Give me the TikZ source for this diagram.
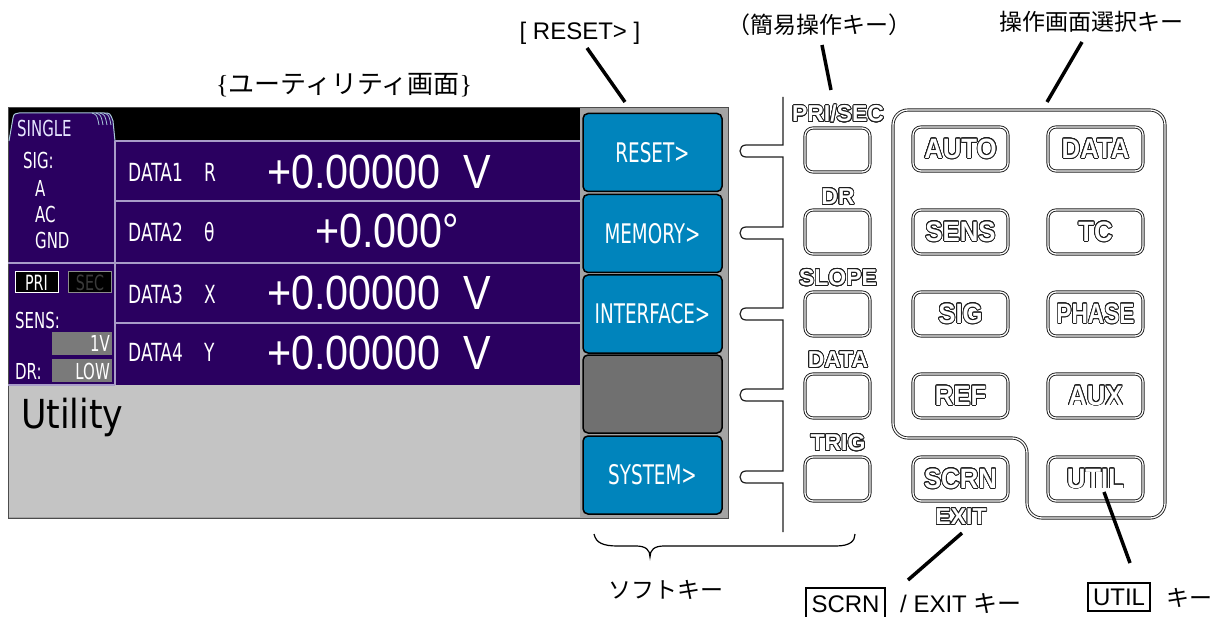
\documentclass[tikz,border=0pt]{standalone}
\usepackage{fontspec}
\setmainfont{Liberation Sans}
\newfontfamily\jp{Noto Sans CJK JP}
\newfontfamily\lcd[FakeStretch=0.68]{DejaVu Sans}
\newfontfamily\lcdbig[FakeStretch=0.86]{Liberation Sans}
\newfontfamily\utilfont[FakeStretch=0.87]{DejaVu Sans}
\newfontfamily\serifbr{Liberation Serif}
\newfontfamily\pnlfont[FakeStretch=0.92]{Liberation Sans}
\usepackage[copies]{contour}
\contourlength{0.8pt}
\contournumber{24}
\definecolor{scrpurple}{HTML}{2A0060}
\definecolor{scrline}{HTML}{A89CC8}
\definecolor{tabline}{HTML}{A8C8D8}
\definecolor{keyblue}{HTML}{0084BC}
\definecolor{keygray}{HTML}{707070}
\definecolor{utilgray}{HTML}{C4C4C4}
\definecolor{framegray}{HTML}{A4A4A4}
\definecolor{boxgray}{HTML}{7A7A7A}
\definecolor{secgray}{HTML}{3A3A3A}
\definecolor{panelline}{HTML}{1E1E1E}
\newcommand{\pnltxt}[1]{{\color{white}\contour{panelline}{#1}}}
\begin{document}
\begin{tikzpicture}[x=1pt,y=-1pt,
  lcdtxt/.style={text=white, font=\lcd\fontsize{25}{25}\selectfont, inner sep=0pt},
  lcdsmall/.style={text=white, font=\lcd\fontsize{22}{22}\selectfont, inner sep=0pt},
  bigval/.style={text=white, font=\lcdbig\fontsize{48}{48}\selectfont, inner sep=0pt},
  softkey/.style={draw=black, line width=1.5pt, rounded corners=5pt, fill=keyblue,
     minimum width=139pt, minimum height=78pt, inner sep=0pt, text=white,
     font=\lcd\fontsize{27}{27}\selectfont},
  panelkey/.style={draw=panelline, double=white, double distance=1.3pt, line width=0.9pt,
     rounded corners=8pt, minimum height=44pt, inner sep=0pt,
     font=\pnlfont\bfseries\fontsize{28}{28}\selectfont},
  bigkey/.style={panelkey, minimum width=95pt},
  smallkey/.style={panelkey, minimum width=65pt},
  smalllbl/.style={font=\bfseries\fontsize{23}{23}\selectfont, inner sep=0pt},
  annot/.style={line width=3.5pt},
  annottxt/.style={font=\fontsize{24}{24}\selectfont, inner sep=0pt},
  jptxt/.style={font=\jp\fontsize{23}{23}\selectfont, inner sep=0pt},
  conn/.style={draw=panelline, line width=1.2pt}
]
\useasboundingbox (0,0) rectangle (1220,617);

% ---------- screen ----------
\fill[framegray] (8,108) rectangle (728,518);
\fill[scrpurple] (8,108) rectangle (580,385);
\fill[black] (8,108) rectangle (580,141);
\fill[utilgray] (8,385) rectangle (580,517);
\draw[black!70, line width=1pt] (8,108) rectangle (728,518);
% tab
\filldraw[fill=scrpurple, draw=tabline, line width=1pt]
  (9,141) -- (13,118) .. controls (14,114) .. (19,113) -- (104,113)
  .. controls (110,113) .. (113,121) -- (115,141);
\foreach \i in {0,1,2,3}
  \draw[tabline, line width=0.8pt] (92+4*\i,113) .. controls (97+4*\i,115) .. (99+4*\i,125);
\node[lcdsmall, anchor=west, text=white!90!blue] (single) at (17,128) {SINGLE};

% grid lines
\draw[scrline, line width=1.3pt] (115,141) -- (580,141);
\draw[scrline, line width=1.3pt] (115,201) -- (580,201);
\draw[scrline, line width=1.3pt] (8,263) -- (580,263);
\draw[scrline, line width=1.3pt] (115,323) -- (580,323);
\draw[scrline, line width=1.3pt] (115,141) -- (115,385);
\draw[scrline, line width=1.3pt] (8,385) -- (115,385);

% left panel
\node[lcdsmall, anchor=west] (sig) at (23,160) {SIG:};
\node[lcdsmall, anchor=west] (siga) at (35,188) {A};
\node[lcdsmall, anchor=west] (sigac) at (35,214) {AC};
\node[lcdsmall, anchor=west] (siggnd) at (35,240) {GND};
\node[draw=white, fill=black, line width=1pt, minimum width=43pt, minimum height=21pt,
      inner sep=0pt, text=white, font=\lcd\fontsize{21}{21}\selectfont] (pri) at (36.5,282.5) {PRI};
\node[draw=black!45, fill=black, line width=1pt, minimum width=43pt, minimum height=21pt,
      inner sep=0pt, text=secgray, font=\lcd\fontsize{21}{21}\selectfont] (sec) at (90,282.5) {SEC};
\node[lcdsmall, anchor=west] (sens) at (15,320) {SENS:};
\fill[boxgray] (52,332) rectangle (112,355);
\node[lcdsmall, anchor=east] (onev) at (110,343) {1V};
\node[lcdsmall, anchor=west] (dr) at (15,371) {DR:};
\fill[boxgray] (52,359) rectangle (112,382);
\node[lcdsmall, anchor=east] (low) at (110,371) {LOW};

% data rows
\node[lcdtxt, anchor=west] (d1) at (128,172) {DATA1};
\node[lcdtxt, anchor=west] (d1q) at (204,172) {R};
\node[lcdtxt, anchor=west] (d2) at (128,232) {DATA2};
\node[lcdtxt, anchor=west] (d2q) at (204,232) {θ};
\node[lcdtxt, anchor=west] (d3) at (128,294) {DATA3};
\node[lcdtxt, anchor=west] (d3q) at (204,294) {X};
\node[lcdtxt, anchor=west] (d4) at (128,352) {DATA4};
\node[lcdtxt, anchor=west] (d4q) at (204,352) {Y};

\node[bigval, anchor=west] (v1) at (267,172) {+0.00000};
\node[bigval] (v1u) at (477,172) {V};
\node[bigval, anchor=west] (v2) at (315,231) {+0.000°};
\node[bigval, anchor=west] (v3) at (267,293) {+0.00000};
\node[bigval] (v3u) at (477,293) {V};
\node[bigval, anchor=west] (v4) at (267,353) {+0.00000};
\node[bigval] (v4u) at (477,353) {V};

\node[anchor=base west, inner sep=0pt, font=\utilfont\fontsize{40}{40}\selectfont] (util) at (21,428) {Utility};

% soft keys
\node[softkey] (sk1) at (652.5,152.5) {RESET>};
\node[softkey] (sk2) at (652.5,233.5) {MEMORY>};
\node[softkey] (sk3) at (652.5,314) {INTERFACE>};
\node[softkey, fill=keygray] (sk4) at (652.5,394) {};
\node[softkey] (sk5) at (652.5,475) {SYSTEM>};

% ---------- connector line with notches ----------
\draw[conn] (783,97)
  \foreach \c in {151,233,314,395,477} {
    -- (783,\c-6) -- (746,\c-6) .. controls (738,\c-6) and (738,\c+6) .. (746,\c+6) -- (783,\c+6)
  } -- (783,532);

% ---------- small keys ----------
\node[smallkey] (kps) at (837.5,150) {};
\node[smallkey] (kdr) at (837.5,232) {};
\node[smallkey] (ksl) at (837.5,314) {};
\node[smallkey] (kda) at (837.5,396) {};
\node[smallkey] (ktr) at (837.5,479) {};
\node[smalllbl] (lps) at (838,114) {\pnltxt{PRI/SEC}};
\node[smalllbl] (ldr) at (838,197) {\pnltxt{DR}};
\node[smalllbl] (lsl) at (838,278) {\pnltxt{SLOPE}};
\node[smalllbl] (lda) at (838,360) {\pnltxt{DATA}};
\node[smalllbl] (ltr) at (838,443) {\pnltxt{TRIG}};

% ---------- panel outline ----------
\draw[draw=panelline, double=white, double distance=1.3pt, line width=0.9pt, rounded corners=15pt]
  (893,300) -- (893,110) -- (1165,110) -- (1165,518) -- (1027,518) -- (1027,438) -- (893,438) -- cycle;

% panel keys
\node[bigkey] (kauto) at (960.5,149) {\pnltxt{AUTO}};
\node[bigkey] (kdata) at (1095.5,149) {\pnltxt{DATA}};
\node[bigkey] (ksens) at (960.5,232) {\pnltxt{SENS}};
\node[bigkey] (ktc) at (1095.5,232) {\pnltxt{TC}};
\node[bigkey] (ksig) at (960.5,314) {\pnltxt{SIG}};
\node[bigkey] (kphase) at (1095.5,314) {\scalebox{0.88}[1]{\pnltxt{PHASE}}};
\node[bigkey] (kref) at (960.5,396) {\pnltxt{REF}};
\node[bigkey] (kaux) at (1095.5,396) {\pnltxt{AUX}};
\node[bigkey] (kscrn) at (960.5,479) {\pnltxt{SCRN}};
\node[bigkey] (kutil) at (1095.5,479) {\pnltxt{UTIL}};
\node[smalllbl] (lexitk) at (961,517) {\pnltxt{EXIT}};

% ---------- brace ----------
\draw[line width=1.2pt] (594,534) .. controls (596,543) and (603,546) .. (618,546)
  -- (636,546) .. controls (646,546) and (650,550) .. (650,557)
  .. controls (650,550) and (654,546) .. (664,546)
  -- (836,546) .. controls (850,546) and (855,541) .. (855,534);

% ---------- annotations ----------
\node[annottxt] (lreset) at (580,33) {[ RESET> ]};
\node[jptxt] (lsimple) at (819,25) {（簡易操作キー）};
\node[jptxt] (lselect) at (1091,22) {操作画面選択キー};
\node[anchor=west, inner sep=0pt, font=\fontsize{26}{26}\selectfont] (lscreen) at (216,85)
  {{\serifbr\{}{\jp ユーティリティ画面}{\serifbr\}}};
\node[jptxt] (lsoft) at (666,590) {ソフトキー};
\node[annottxt, draw, line width=1.8pt, minimum width=79pt, minimum height=32pt] (lscrn) at (845.5,604) {SCRN};
\node[annottxt, anchor=west] (lexit) at (900,604) {/ EXIT {\jp キー}};
\node[annottxt, draw, line width=1.8pt, minimum width=62pt, minimum height=28pt] (lutil) at (1119,597) {UTIL};
\node[jptxt] (lutilk) at (1189,598) {キー};

\coordinate (a1s) at (587,48);  \coordinate (a1e) at (625,102);
\coordinate (a2s) at (822,45);  \coordinate (a2e) at (831,90);
\coordinate (a3s) at (1082,42); \coordinate (a3e) at (1047,102);
\coordinate (a4s) at (908,580); \coordinate (a4e) at (962,533);
\coordinate (a5s) at (1130,563); \coordinate (a5e) at (1104,492);
\draw[annot] (a1s) -- (a1e);
\draw[annot] (a2s) -- (a2e);
\draw[annot] (a3s) -- (a3e);
\draw[annot] (a4s) -- (a4e);
\draw[annot] (a5s) -- (a5e);
\end{tikzpicture}
\end{document}
